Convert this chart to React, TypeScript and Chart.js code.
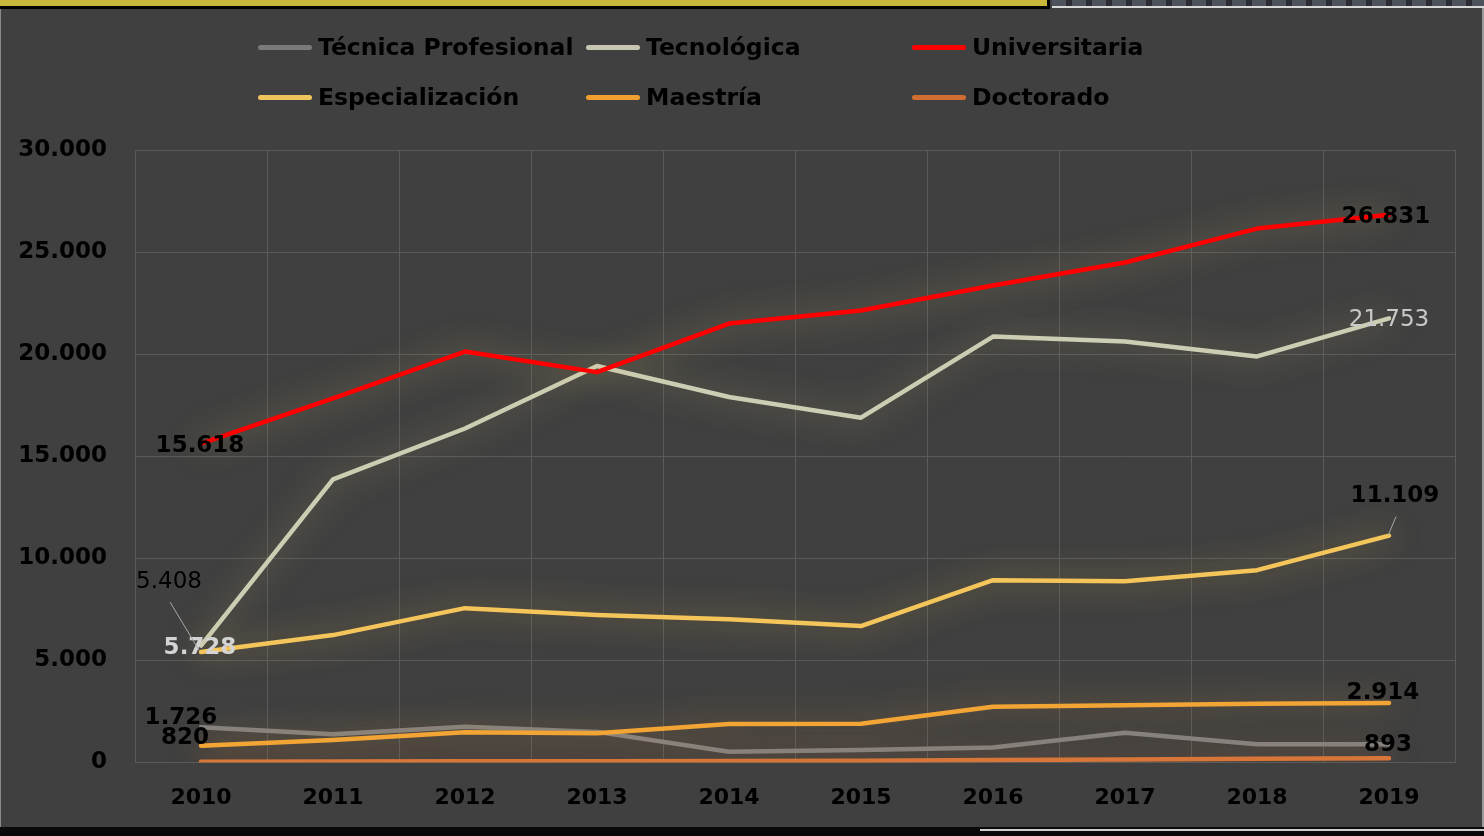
import React, { useEffect, useRef } from "react";
import { Chart, registerables } from "chart.js";

Chart.register(...registerables);

const years = ["2010", "2011", "2012", "2013", "2014", "2015", "2016", "2017", "2018", "2019"];
const tecnicaProfesional = [1726, 1380, 1750, 1500, 530, 610, 740, 1460, 890, 893];
const tecnologica = [5728, 13870, 16360, 19420, 17900, 16890, 20860, 20620, 19890, 21753];
const universitaria = [15618, 17830, 20130, 19120, 21500, 22140, 23360, 24490, 26150, 26831];
const especializacion = [5408, 6240, 7560, 7220, 7020, 6680, 8930, 8880, 9420, 11109];
const maestria = [820, 1100, 1480, 1430, 1880, 1900, 2730, 2810, 2880, 2914];
const doctorado = [38, 52, 58, 66, 71, 84, 118, 151, 178, 206];
const seriesNames = ["Técnica Profesional", "Tecnológica", "Universitaria", "Especialización", "Maestría", "Doctorado"];
const yMin = 0;
const yMax = 30000;
const yStep = 5000;

const seriesColors = ["#858380", "#cdcdb3", "#ff0000", "#f4c55a", "#f2a535", "#d8763a"];
const legendColors = ["#7a7a7a", "#c8c8b0", "#ff0000", "#f0c45c", "#f0a030", "#d06d30"];
const glowColors = [
  "rgba(150,140,110,0.4)",
  "rgba(200,190,120,0.55)",
  "rgba(215,195,100,0.55)",
  "rgba(230,190,80,0.6)",
  "rgba(230,160,60,0.55)",
  "rgba(210,110,50,0.55)",
];
const drawOrder = [6, 5, 1, 2, 3, 4];

const FONT = "'DejaVu Sans', sans-serif";

const fmt = (n: number) => String(Math.round(n)).replace(/\B(?=(\d{3})+(?!\d))/g, ".");

type LabelSpec = {
  ds: number;
  i: number;
  dx: number;
  dy: number;
  color: string;
  weight: string;
  leader?: [number, number, number, number];
};

const labelSpecs: LabelSpec[] = [
  { ds: 2, i: 0, dx: -1, dy: 2, color: "#000", weight: "bold" },
  { ds: 2, i: 9, dx: -3, dy: 2, color: "#000", weight: "bold" },
  { ds: 1, i: 9, dx: 0, dy: 2, color: "#c8c8c8", weight: "normal" },
  { ds: 1, i: 0, dx: -1, dy: 2, color: "#d4d4d4", weight: "bold" },
  { ds: 3, i: 0, dx: -32, dy: -70, color: "#000", weight: "normal", leader: [-31, -50, -2, -2] },
  { ds: 3, i: 9, dx: 6, dy: -40, color: "#000", weight: "bold", leader: [-1, 0, 7, -19] },
  { ds: 0, i: 0, dx: -20, dy: -9, color: "#000", weight: "bold" },
  { ds: 4, i: 0, dx: -16, dy: -8, color: "#000", weight: "bold" },
  { ds: 4, i: 9, dx: -6, dy: -10, color: "#000", weight: "bold" },
  { ds: 0, i: 9, dx: -1, dy: 1, color: "#000", weight: "bold" },
];

const glowPlugin = {
  id: "glow",
  beforeDatasetDraw(chart: any, args: any) {
    const ctx = chart.ctx;
    ctx.save();
    ctx.shadowColor = glowColors[args.index];
    ctx.shadowBlur = 30;
    ctx.shadowOffsetX = 0;
    ctx.shadowOffsetY = 0;
  },
  afterDatasetDraw(chart: any) {
    chart.ctx.restore();
  },
};

const labelPlugin = {
  id: "pointLabels",
  afterDatasetsDraw(chart: any) {
    const ctx = chart.ctx;
    ctx.save();
    labelSpecs.forEach((s) => {
      const meta = chart.getDatasetMeta(s.ds);
      const pt = meta.data[s.i];
      if (!pt) return;
      const v = chart.data.datasets[s.ds].data[s.i] as number;
      if (s.leader) {
        ctx.strokeStyle = "#a8a8a8";
        ctx.lineWidth = 1;
        ctx.beginPath();
        ctx.moveTo(pt.x + s.leader[0], pt.y + s.leader[1]);
        ctx.lineTo(pt.x + s.leader[2], pt.y + s.leader[3]);
        ctx.stroke();
      }
      ctx.font = `${s.weight} 23px ${FONT}`;
      ctx.fillStyle = s.color;
      ctx.textAlign = "center";
      ctx.textBaseline = "middle";
      ctx.fillText(fmt(v), pt.x + s.dx, pt.y + s.dy);
    });
    ctx.restore();
  },
};

export default function App() {
  const ref = useRef<HTMLCanvasElement | null>(null);

  useEffect(() => {
    if (!ref.current) return;
    const data = [tecnicaProfesional, tecnologica, universitaria, especializacion, maestria, doctorado];
    const chart = new Chart(ref.current, {
      type: "line",
      data: {
        labels: years,
        datasets: data.map((d, k) => ({
          label: seriesNames[k],
          data: d,
          borderColor: seriesColors[k],
          backgroundColor: seriesColors[k],
          borderWidth: 4.5,
          pointRadius: 0,
          pointHoverRadius: 0,
          tension: 0,
          fill: false,
          order: drawOrder[k],
          borderCapStyle: "round" as const,
          borderJoinStyle: "round" as const,
        })),
      },
      options: {
        animation: false,
        responsive: false,
        maintainAspectRatio: false,
        layout: { padding: { top: 150, right: 29, left: 0, bottom: 0 } },
        plugins: {
          legend: { display: false },
          tooltip: { enabled: false },
        },
        scales: {
          x: {
            offset: true,
            grid: { offset: true, color: "#5a5a5a", lineWidth: 1, drawTicks: false },
            border: { color: "#5a5a5a" },
            ticks: {
              color: "#000",
              padding: 23,
              font: { family: FONT, size: 22, weight: "bold" },
            },
            afterFit(s: any) {
              s.height = 73.5;
            },
          },
          y: {
            min: yMin,
            max: yMax,
            ticks: {
              stepSize: yStep,
              color: "#000",
              padding: 28,
              font: { family: FONT, size: 23, weight: "bold" },
              callback: (v: any) => fmt(Number(v)),
            },
            grid: { color: "#5a5a5a", lineWidth: 1, drawTicks: false },
            border: { color: "#5a5a5a" },
            afterFit(s: any) {
              s.width = 135;
            },
          },
        },
      },
      plugins: [glowPlugin, labelPlugin],
    });
    return () => chart.destroy();
  }, []);

  const legendCols = [258, 586, 912];
  const legendRows = [47, 97];

  return (
    <div
      style={{
        position: "fixed",
        left: 0,
        top: 0,
        width: 1484,
        height: 836,
        background: "#404040",
        overflow: "hidden",
      }}
    >
      <div style={{ position: "absolute", left: 0, top: 0, width: 1050, height: 9, background: "#000" }} />
      <div style={{ position: "absolute", left: 0, top: 0, width: 1047, height: 6, background: "#c9b63d" }} />
      <div
        style={{
          position: "absolute",
          left: 1052,
          top: 0,
          width: 432,
          height: 6,
          background: "repeating-linear-gradient(90deg, #4d525c 0px, #4d525c 14px, #2a2d33 14px, #2a2d33 20px)",
        }}
      />
      <div style={{ position: "absolute", left: 1052, top: 6, width: 432, height: 2, background: "#d8d8d8" }} />
      <div style={{ position: "absolute", left: 0, top: 9, width: 1, height: 818, background: "#8a8a8a" }} />
      <div style={{ position: "absolute", left: 1482, top: 8, width: 2, height: 822, background: "#9a9a9a" }} />
      <div style={{ position: "absolute", left: 0, top: 827, width: 1484, height: 9, background: "#0a0a0a" }} />
      <div style={{ position: "absolute", left: 980, top: 829, width: 504, height: 2, background: "#cfcfcf" }} />

      <canvas ref={ref} width={1484} height={836} style={{ position: "absolute", left: 0, top: 0, width: 1484, height: 836 }} />

      {seriesNames.map((name, k) => {
        const col = k % 3;
        const row = Math.floor(k / 3);
        const x = legendCols[col];
        const y = legendRows[row];
        return (
          <div key={name}>
            <div
              style={{
                position: "absolute",
                left: x,
                top: y - 2.5,
                width: 54,
                height: 5,
                borderRadius: 3,
                background: legendColors[k],
              }}
            />
            <div
              style={{
                position: "absolute",
                left: x + 60,
                top: y - 15,
                height: 30,
                lineHeight: "30px",
                fontFamily: FONT,
                fontWeight: "bold",
                fontSize: 23.5,
                color: "#000",
                whiteSpace: "nowrap",
              }}
            >
              {name}
            </div>
          </div>
        );
      })}
    </div>
  );
}
